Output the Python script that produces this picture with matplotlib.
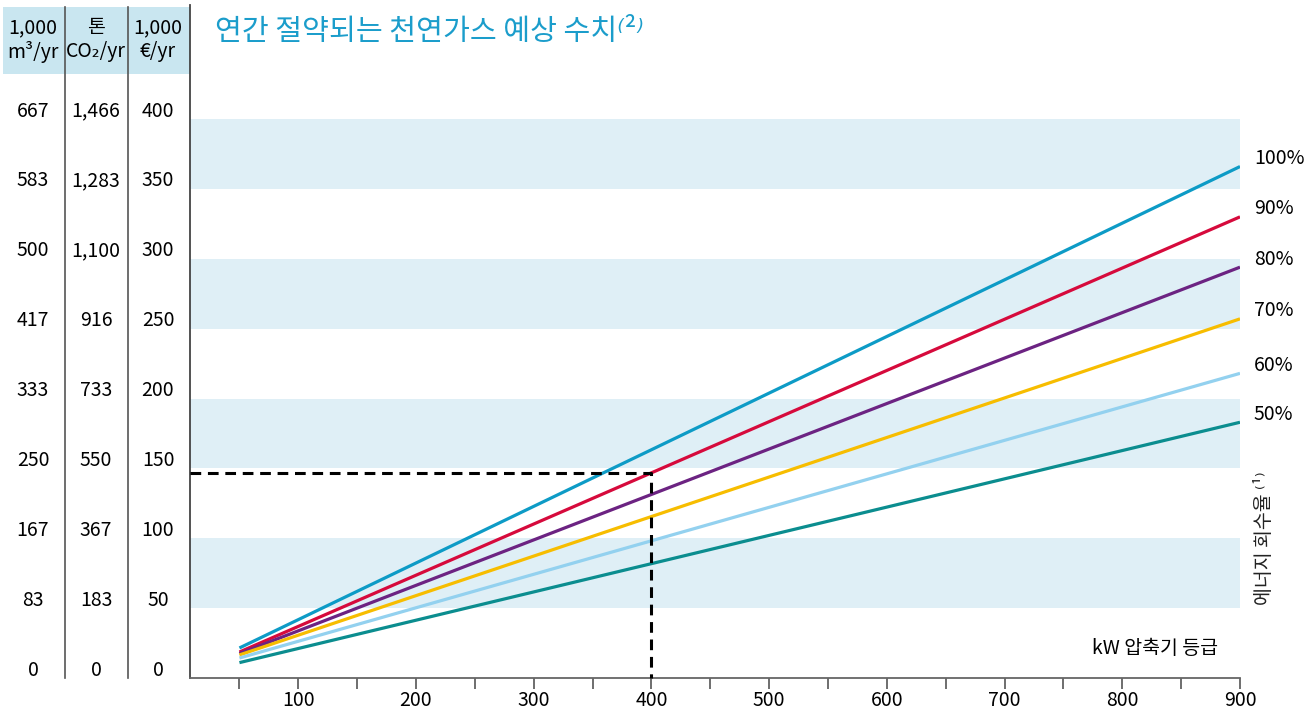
import matplotlib
matplotlib.use('Agg')
import matplotlib.pyplot as plt
from matplotlib.patches import Rectangle
from matplotlib.lines import Line2D
from matplotlib.transforms import blended_transform_factory, offset_copy

# ---------------- data ----------------
kw = [50, 900]
rates = ['100%', '90%', '80%', '70%', '60%', '50%']
savings_at_50kw = [21.5, 18.6, 17.5, 16.5, 14.3, 11.0]
savings_at_900kw = [366, 330, 294, 257, 218, 183]
line_colors = ['#0d9bc6', '#d60a3c', '#6c2382', '#f7bd00', '#93d1ef', '#0b8d8f']

eur_values = [0, 50, 100, 150, 200, 250, 300, 350, 400]
m3_labels = ['0', '83', '167', '250', '333', '417', '500', '583', '667']
co2_labels = ['0', '183', '367', '550', '733', '916', '1,100', '1,283', '1,466']
eur_labels = ['0', '50', '100', '150', '200', '250', '300', '350', '400']

kw_ticks = list(range(50, 901, 50))
kw_labels = ['' if t % 100 else str(t) for t in kw_ticks]

bands = [(50, 100), (150, 200), (250, 300), (350, 400)]
example_kw = 400
example_eur = 147

title = '연간 절약되는 천연가스 예상 수치⁽²⁾'
xlabel = 'kW 압축기 등급'
ylabel_right = '에너지 회수율 ⁽¹⁾'
headers = [('1,000', 'm³/yr'), ('톤', 'CO₂/yr'), ('1,000', '€/yr')]

# ---------------- style ----------------
plt.rcParams['font.family'] = ['Noto Sans CJK KR', 'DejaVu Sans']
W, H = 1311, 715
fig = plt.figure(figsize=(W / 100, H / 100), dpi=100)

ax = fig.add_axes([190 / W, (H - 678) / H, (1240 - 190) / W, (678 - 5) / H])
ax.set_xlim(8, 900)
ax.set_ylim(0, 481.6)

for lo, hi in bands:
    ax.axhspan(lo, hi, color='#dfeff6', lw=0, zorder=0)

for name, s0, s1, c in zip(rates, savings_at_50kw, savings_at_900kw, line_colors):
    ax.plot(kw, [s0, s1], color=c, lw=2.3, solid_capstyle='butt', zorder=3)
    ax.annotate(name, xy=(kw[-1], s1), xytext=(14, 8), textcoords='offset pixels',
                ha='left', va='center', fontsize=14, annotation_clip=False)

x0 = ax.get_xlim()[0]
ax.plot([x0, example_kw, example_kw], [example_eur, example_eur, 0], color='black',
        lw=2.2, dashes=(3.5, 2.2), zorder=4, clip_on=False)

for s in ['top', 'right']:
    ax.spines[s].set_visible(False)
ax.spines['left'].set_color('#444444')
ax.spines['left'].set_linewidth(1.3)
ax.spines['bottom'].set_color('#666666')
ax.spines['bottom'].set_linewidth(1.3)
ax.set_yticks([])
ax.set_xticks(kw_ticks)
ax.set_xticklabels(kw_labels)
ax.tick_params(axis='x', length=8, width=1.2, color='#555555', pad=1, labelsize=14)

# left value table
trans = offset_copy(blended_transform_factory(fig.transFigure, ax.transData),
                    fig=fig, y=8, units='dots')
col_x = [33, 96, 158]
for cx, labels in zip(col_x, [m3_labels, co2_labels, eur_labels]):
    for v, lab in zip(eur_values, labels):
        fig.text(cx / W, v, lab, transform=trans, ha='center', va='center', fontsize=14)

# header
fig.add_artist(Rectangle((3 / W, (H - 74) / H), 187 / W, 67 / H,
                         transform=fig.transFigure, color='#c9e6f0', lw=0, zorder=0))
for cx, (l1, l2) in zip(col_x, headers):
    fig.text(cx / W, 1 - 28 / H, l1, ha='center', va='center', fontsize=14)
    fig.text(cx / W, 1 - 52 / H, l2, ha='center', va='center', fontsize=14)
for lx in [65, 128]:
    fig.add_artist(Line2D([lx / W, lx / W], [1 - 7 / H, 1 - 678 / H],
                          transform=fig.transFigure, color='#555555', lw=1.2))

# titles / labels
fig.text(215 / W, 1 - 32 / H, title, color='#1b9dcb', fontsize=21, va='center', ha='left',
         style='italic')
fig.text(1218 / W, 1 - 648 / H, xlabel, ha='right', va='center', fontsize=14)
fig.text(1265 / W, 1 - 538 / H, ylabel_right, rotation=90, ha='center', va='center',
         fontsize=14, color='#222222')

fig.savefig('out.png', dpi=100)
